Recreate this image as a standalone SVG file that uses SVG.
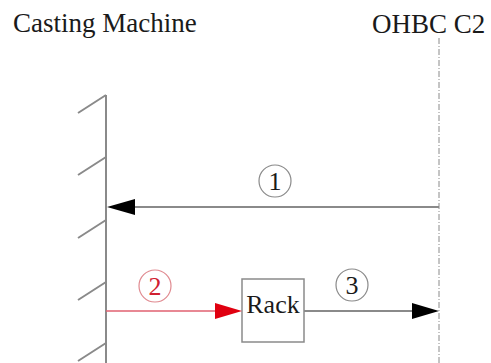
<svg xmlns="http://www.w3.org/2000/svg" width="491" height="363" viewBox="0 0 491 363">
  <style>
    text { font-family: 'Liberation Serif', 'Times New Roman', Times, 'DejaVu Serif', serif; fill: #1a1a1a; }
    .wall { stroke: #8a8a8a; stroke-width: 2; fill: none; }
    .axis { stroke: #8a8a8a; stroke-width: 1; stroke-dasharray: 6 2 1 2; fill: none; }
    .flow { stroke: #8a8a8a; stroke-width: 2; fill: none; }
    .flow-red { stroke: #e06070; stroke-width: 1.5; fill: none; }
    .num { stroke: #8a8a8a; stroke-width: 1.2; fill: none; }
    .num-red { stroke: #e08a90; stroke-width: 1.2; fill: none; }
    .red { fill: #d02030; }
  </style>
  <rect width="491" height="363" fill="#ffffff"/>

  <g id="casting-machine">
    <text x="13" y="32" font-size="27">Casting Machine</text>
    <path class="wall" d="M106 95 V363"/>
    <path class="wall" d="M106 95 L78 113 M106 157 L78 175 M106 220 L78 238 M106 282 L78 300 M106 343 L78 361"/>
  </g>

  <g id="ohbc-c2">
    <text x="372" y="33" font-size="27">OHBC C2</text>
    <path class="axis" d="M439 38 V363"/>
  </g>

  <g id="rack">
    <rect x="242" y="279" width="62" height="63" fill="#ffffff" stroke="#8a8a8a" stroke-width="1.5"/>
    <text x="273" y="313" font-size="26" text-anchor="middle">Rack</text>
  </g>

  <g id="connectors">
    <!-- step 1: OHBC to casting machine -->
    <path class="flow" d="M439 207 H130"/>
    <polygon points="107,207 135,199 135,215" fill="#000000"/>
    <circle class="num" cx="275" cy="181" r="16"/>
    <text x="275" y="190" font-size="26" text-anchor="middle">1</text>

    <!-- step 2: casting machine to rack -->
    <path class="flow-red" d="M106 311 H220"/>
    <polygon points="242,311 215,303 215,319" fill="#e00010"/>
    <circle class="num-red" cx="155" cy="286" r="16"/>
    <text class="red" x="155" y="295" font-size="26" text-anchor="middle">2</text>

    <!-- step 3: rack to OHBC -->
    <path class="flow" d="M304 311 H415"/>
    <polygon points="439,311 412,303 412,319" fill="#000000"/>
    <circle class="num" cx="352" cy="285" r="16"/>
    <text x="352" y="294" font-size="26" text-anchor="middle">3</text>
  </g>
</svg>
